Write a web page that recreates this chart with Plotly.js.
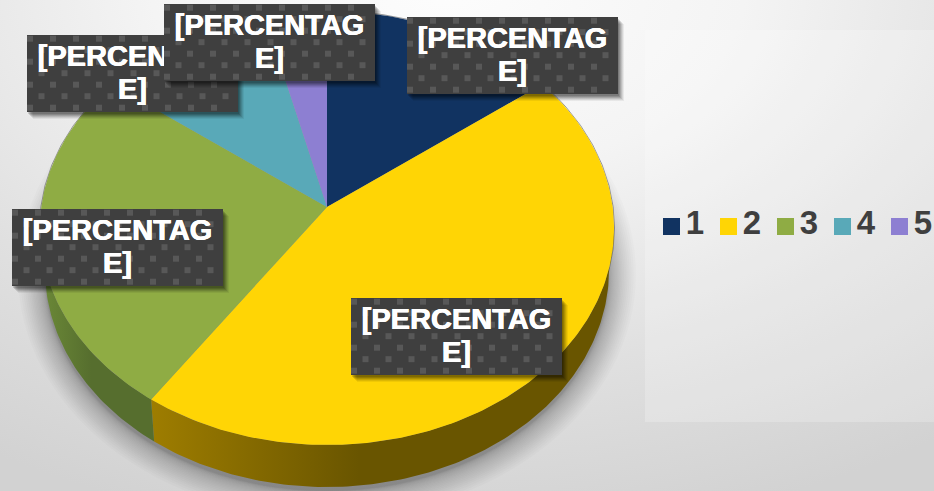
<!DOCTYPE html>
<html><head><meta charset="utf-8">
<script src="https://cdn.plot.ly/plotly-3.0.1.min.js"></script>
<style>
html,body{margin:0;padding:0;width:934px;height:491px;overflow:hidden;
background:radial-gradient(ellipse 850px 560px at 48% -4%,#fdfdfd 0%,#f4f4f4 35%,#e0e0e0 70%,#d2d2d2 100%);}
#chart{width:934px;height:491px;}
</style></head><body><div id="chart"></div>
<script>
// Data
const categories = ['1','2','3','4','5'];
const shares = [13.5, 47, 26, 10, 3.5];
const topColors = ['#113361','#FFD505','#8FAC44','#59A9B8','#8D7FD2'];
const wallLeft = {1:'#9E7D00',2:'#6C8A38'};
const wallRight = {1:'#695500',2:'#566E2E'};
const labelLines = ['[PERCENTAG','E]'];
// top-left corners of the five label boxes, in paint order
const boxCorners = [[407,17],[351,298],[12,209],[27,35],[164,4]];

// Projection of the tilted pie
const apex = {x:327,y:207};
const rimTop = {cx:327,cy:228,rx:287,ry:217};
const rimLow = {cx:327,cy:270,rx:282,ry:217};
const onRim = (r,f)=>{const t=f*2*Math.PI;return [r.cx+r.rx*Math.sin(t), r.cy-r.ry*Math.cos(t)];};
function arc(r,f0,f1){const n=Math.max(2,Math.ceil((f1-f0)*360));const out=[];
  for(let i=0;i<=n;i++) out.push(onRim(r,f0+(f1-f0)*i/n));return out;}
const total = shares.reduce((a,b)=>a+b,0);
let acc=0; const spans=shares.map(v=>{const s=[acc/total,(acc+v)/total];acc+=v;return s;});

const traces=[];
const poly=(pts,extra)=>Object.assign({type:'scatter',mode:'lines',x:pts.map(p=>p[0]),y:pts.map(p=>p[1]),
  fill:'toself',line:{width:0},hoverinfo:'skip',showlegend:false},extra);

// side wall: only the part of a slice on the near half of the rim is visible
spans.forEach((s,i)=>{
  const a=Math.max(s[0],0.25),b=Math.min(s[1],0.75);
  if(b<=a) return;
  const pts=arc(rimTop,a,b).concat(arc(rimLow,a,b).reverse());
  pts.push(pts[0]);
  traces.push(poly(pts,{fillcolor:wallLeft[i],
    fillgradient:{type:'horizontal',colorscale:[[0,wallLeft[i]],[0.45,wallRight[i]],[1,wallRight[i]]]}}));
});
// top surface
spans.forEach((s,i)=>{
  const pts=[[apex.x,apex.y]].concat(arc(rimTop,s[0],s[1]));pts.push([apex.x,apex.y]);
  traces.push(poly(pts,{fillcolor:topColors[i]}));
});
// labels, each painted over the previous ones
const W=211,H=77;
const rect=(x,y,w,h)=>[[x,y],[x+w,y],[x+w,y+h],[x,y+h],[x,y]];
boxCorners.forEach(c=>{
  const [x,y]=c;
  [[6,7,.06],[5,6,.08],[4,5,.1],[3,4,.12],[2,3,.14],[1,2,.14]].forEach(o=>{
    traces.push(poly(rect(x+o[0],y+o[1],W,H),{fillcolor:'rgba(0,0,0,'+o[2]+')'}));
  });
  traces.push(poly(rect(x,y,W,H),{fillcolor:'#3f3f3f'}));
  const dx=[],dy=[];
  for(let r=0;3.7+r*11.5<H-2;r++){
    for(let k=0;(r%2?14.5:3)+k*23<W-2;k++){dx.push(x+(r%2?14.5:3)+k*23);dy.push(y+3.7+r*11.5);}
  }
  traces.push({type:'scatter',mode:'markers',x:dx,y:dy,hoverinfo:'skip',showlegend:false,
    marker:{symbol:'square',size:6,color:'#585858',line:{width:0}}});
  traces.push({type:'scatter',mode:'text',x:[x+W/2,x+W/2],y:[y+23.5,y+57],text:labelLines,
    textposition:'middle center',hoverinfo:'skip',showlegend:false,
    textfont:{family:'"Liberation Sans",Arial,sans-serif',size:29,weight:'bold',color:'#ffffff',
      shadow:'0.4px 0 0 #fff,-0.4px 0 0 #fff'}});
});
// legend entries
categories.forEach((c,i)=>{
  traces.push({type:'scatter',mode:'markers',x:[671.5+57*i],y:[226.5],hoverinfo:'skip',showlegend:false,
    marker:{symbol:'square',size:17,color:topColors[i],line:{width:0}}});
  traces.push({type:'scatter',mode:'text',x:[695+57*i],y:[225.5],text:[c],textposition:'middle center',
    hoverinfo:'skip',showlegend:false,cliponaxis:false,
    textfont:{family:'"Liberation Sans",Arial,sans-serif',size:33,weight:'bold',color:'#3f3f3f'}});
});

// soft shadow below the pie and the pale panel behind the legend
const shapes=[{type:'rect',layer:'below',x0:645,x1:940,y0:30,y1:422,fillcolor:'rgba(255,255,255,0.22)',line:{width:0}}];
for(let k=24;k>=1;k--){
  const e=k*k/576*27;
  shapes.push({type:'circle',layer:'below',x0:rimLow.cx-rimLow.rx-e,x1:rimLow.cx+rimLow.rx+e,
    y0:rimLow.cy-rimLow.ry-e+4,y1:rimLow.cy+rimLow.ry+e+4,fillcolor:'rgba(0,0,0,0.014)',line:{width:0}});
}
shapes.push({type:'circle',layer:'below',x0:39.5,x1:614.5,y0:10.5,y1:445.5,fillcolor:'rgba(0,0,0,0)',line:{color:'rgba(90,90,90,0.6)',width:1}});

Plotly.newPlot('chart',traces,{
  width:934,height:491,margin:{l:0,r:0,t:0,b:0},
  paper_bgcolor:'rgba(0,0,0,0)',plot_bgcolor:'rgba(0,0,0,0)',
  xaxis:{range:[0,934],visible:false,fixedrange:true},
  yaxis:{range:[491,0],visible:false,fixedrange:true},
  shapes:shapes,
  showlegend:false
},{displayModeBar:false,staticPlot:true});
</script></body></html>
